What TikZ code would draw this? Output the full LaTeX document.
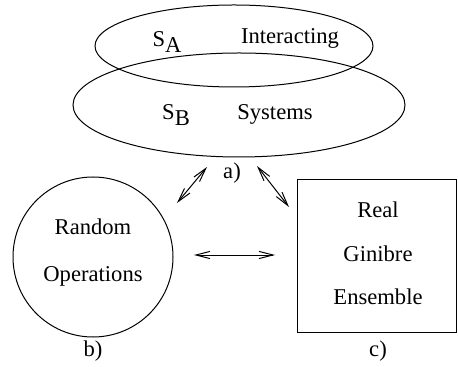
\documentclass[tikz,border=0pt]{standalone}
\usepackage{fontspec}
\setmainfont{Liberation Serif}
\usetikzlibrary{shapes.geometric,arrows.meta}
\begin{document}
\begin{tikzpicture}[x=0.5pt,y=-0.5pt,line width=0.5pt,
  lbl/.style={font=\fontsize{11.3}{13}\selectfont,inner sep=0pt},
  ell/.style={draw,ellipse,inner sep=0pt},
  dbl/.style={{Straight Barb[length=7pt,width=3.6pt]}-{Straight Barb[length=7pt,width=3.6pt]}}]
\useasboundingbox (0,0) rectangle (458,367);
% ellipses
\node[ell,minimum width=139pt,minimum height=41pt] (ea) at (234,46) {};
\node[ell,minimum width=166pt,minimum height=52pt] (eb) at (239,105) {};
\node[lbl] (sa) at (167,42) {S\raisebox{-0.55ex}{A}};
\node[lbl] (tint) at (290,38) {Interacting};
\node[lbl] (sb) at (176,115) {S\raisebox{-0.55ex}{B}};
\node[lbl] (tsys) at (275,114) {Systems};
\node[lbl] (la) at (232,173) {a)};
% circle
\node[draw,circle,minimum size=80pt,inner sep=0pt] (circ) at (93,257) {};
\node[lbl] (rnd) at (93,227) {Random};
\node[lbl] (ops) at (93,276) {Operations};
\node[lbl] (lb) at (93,351) {b)};
% rectangle
\node[draw,rectangle,minimum width=79.5pt,minimum height=76.5pt,inner sep=0pt,anchor=north west] (box) at (297,179) {};
\node[lbl] (real) at (378,210) {Real};
\node[lbl] (gin) at (378,254) {Ginibre};
\node[lbl] (ens) at (378,297) {Ensemble};
\node[lbl] (lc) at (378,351) {c)};
% arrows
\coordinate (p1) at (207,167);
\coordinate (p2) at (177,203);
\coordinate (q1) at (257,166);
\coordinate (q2) at (289,207);
\coordinate (h1) at (194,255);
\coordinate (h2) at (275,255);
\draw[dbl] (p1) -- (p2);
\draw[dbl] (q1) -- (q2);
\draw[dbl] (h1) -- (h2);
\end{tikzpicture}
\end{document}
